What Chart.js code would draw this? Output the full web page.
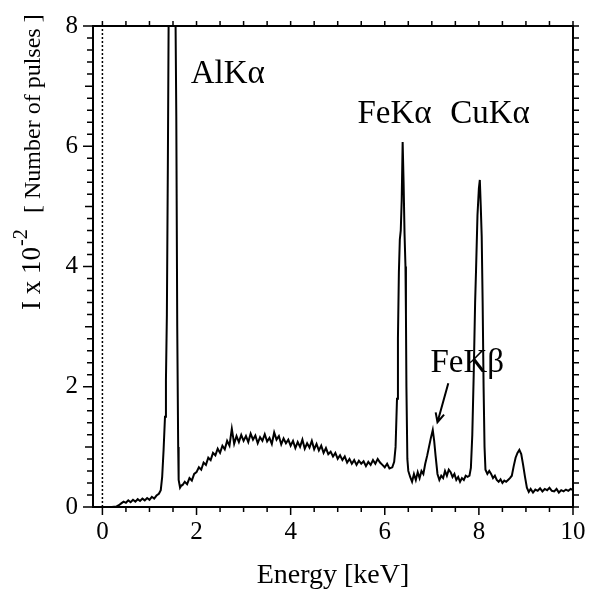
<!DOCTYPE html>
<html>
<head>
<meta charset="utf-8">
<script src="https://cdn.jsdelivr.net/npm/chart.js@4.4.1/dist/chart.umd.min.js"></script>
<style>
  html, body { margin: 0; padding: 0; background: #fff; }
  #wrap { width: 589px; height: 593px; position: relative; }
</style>
</head>
<body>
<div id="wrap"><canvas id="spectrum"></canvas></div>
<script>
// energy [keV] and intensity (x 10^2 pulses)
const energy = [
  0.00, 0.10, 0.20, 0.30, 0.35, 0.40, 0.45, 0.50, 0.55, 0.60, 0.65, 0.70, 0.75, 0.80, 0.85, 0.90, 0.95, 1.00, 1.05, 1.10, 1.15,
  1.20, 1.24, 1.27, 1.30, 1.33, 1.35, 1.37, 1.39, 1.41, 1.44, 1.48, 1.52, 1.55, 1.57, 1.59, 1.61, 1.62, 1.65, 1.68,
  1.70, 1.75, 1.80, 1.85, 1.90, 1.95, 2.00, 2.05, 2.10, 2.15, 2.20, 2.25, 2.30, 2.35, 2.40, 2.45, 2.50, 2.55, 2.60, 2.65,
  2.70, 2.75, 2.80, 2.85, 2.90, 2.95, 3.00, 3.05, 3.10, 3.15, 3.20, 3.25, 3.30, 3.35, 3.40, 3.45, 3.50, 3.55, 3.60, 3.65,
  3.70, 3.75, 3.80, 3.85, 3.90, 3.95, 4.00, 4.05, 4.10, 4.15, 4.20, 4.25, 4.30, 4.35, 4.40, 4.45, 4.50, 4.55, 4.60, 4.65,
  4.70, 4.75, 4.80, 4.85, 4.90, 4.95, 5.00, 5.05, 5.10, 5.15, 5.20, 5.25, 5.30, 5.35, 5.40, 5.45, 5.50, 5.55, 5.60, 5.65,
  5.70, 5.75, 5.80, 5.85, 5.90, 5.95, 6.00, 6.05, 6.10,
  6.16, 6.20, 6.23, 6.26, 6.28, 6.30, 6.32, 6.34, 6.36, 6.38, 6.40, 6.42, 6.44, 6.45, 6.46, 6.48, 6.50, 6.54, 6.58,
  6.62, 6.66, 6.70, 6.74, 6.78, 6.82, 6.86, 6.90, 6.94, 6.98, 7.02, 7.05, 7.08, 7.12, 7.16, 7.20, 7.24, 7.28, 7.32, 7.36,
  7.40, 7.44, 7.48, 7.52, 7.56, 7.60, 7.64, 7.68, 7.72, 7.76,
  7.80, 7.83, 7.86, 7.89, 7.92, 7.94, 7.97, 8.00, 8.02, 8.04, 8.06, 8.08, 8.10, 8.12, 8.14, 8.18, 8.22, 8.26, 8.30, 8.34,
  8.38, 8.42, 8.46, 8.50, 8.54, 8.58, 8.62, 8.66, 8.70, 8.74, 8.78, 8.82, 8.86, 8.90, 8.94, 8.98, 9.02, 9.06, 9.10, 9.15,
  9.20, 9.25, 9.30, 9.35, 9.40, 9.45, 9.50, 9.55, 9.60, 9.65, 9.70, 9.75, 9.80, 9.85, 9.90, 9.95, 10.0
];
const pulses = [
  0.00, 0.00, 0.00, 0.01, 0.03, 0.06, 0.09, 0.07, 0.11, 0.08, 0.12, 0.09, 0.13, 0.10, 0.14, 0.11, 0.15, 0.12, 0.17, 0.14, 0.19,
  0.22, 0.28, 0.50, 0.95, 1.50, 2.10, 3.20, 5.60, 8.50, 10.5, 11.0, 10.5, 8.50, 6.50, 3.00, 1.00, 0.45, 0.32, 0.36,
  0.36, 0.42, 0.38, 0.48, 0.44, 0.55, 0.58, 0.66, 0.62, 0.74, 0.70, 0.82, 0.78, 0.90, 0.86, 0.97, 0.90, 1.02, 0.96, 1.10,
  1.02, 1.30, 1.05, 1.18, 1.08, 1.20, 1.10, 1.18, 1.08, 1.22, 1.12, 1.19, 1.06, 1.16, 1.10, 1.21, 1.09, 1.15, 1.05, 1.24,
  1.12, 1.18, 1.04, 1.14, 1.06, 1.12, 1.02, 1.10, 0.98, 1.08, 1.00, 1.12, 0.97, 1.06, 0.99, 1.10, 0.96, 1.05, 0.94, 1.02,
  0.90, 0.98, 0.88, 0.92, 0.84, 0.90, 0.80, 0.86, 0.78, 0.84, 0.74, 0.80, 0.72, 0.78, 0.70, 0.77, 0.72, 0.76, 0.68, 0.75,
  0.70, 0.78, 0.72, 0.80, 0.74, 0.70, 0.66, 0.72, 0.64,
  0.66, 0.75, 1.00, 1.80, 2.80, 3.90, 4.45, 4.60, 5.10, 6.07, 5.40, 4.55, 4.00, 3.20, 2.00, 0.80, 0.60, 0.50, 0.42,
  0.55, 0.45, 0.58, 0.48, 0.60, 0.55, 0.72, 0.85, 1.00, 1.15, 1.28, 1.10, 0.85, 0.55, 0.45, 0.52, 0.48, 0.60, 0.52, 0.62,
  0.58, 0.50, 0.55, 0.45, 0.50, 0.42, 0.48, 0.45, 0.52, 0.50,
  0.52, 0.65, 1.20, 2.20, 3.40, 3.95, 4.85, 5.30, 5.44, 5.00, 4.50, 3.40, 2.00, 1.00, 0.62, 0.55, 0.60, 0.55, 0.48, 0.52,
  0.45, 0.42, 0.46, 0.40, 0.44, 0.42, 0.45, 0.48, 0.52, 0.68, 0.82, 0.90, 0.95, 0.88, 0.70, 0.50, 0.32, 0.25, 0.30, 0.24,
  0.29, 0.27, 0.31, 0.26, 0.30, 0.28, 0.32, 0.27, 0.26, 0.30, 0.24, 0.28, 0.26, 0.29, 0.27, 0.30, 0.28
];
const xTickLabels = [0, 2, 4, 6, 8, 10];
const yTickLabels = [0, 2, 4, 6, 8];

// peak names, placed in data units
const peakNames = ['AlKα', 'FeKα', 'CuKα', 'FeKβ'];
const peakNameX = [1.875, 5.42, 7.39, 6.97];
const peakNameY = [7.05, 6.39, 6.39, 2.25];

const serif = '"Liberation Serif", "Times New Roman", serif';

const framePlugin = {
  id: 'frame',
  afterDatasetsDraw(chart) {
    const { ctx, chartArea: { left, right, top, bottom }, scales: { x, y } } = chart;
    ctx.save();
    ctx.strokeStyle = '#000';
    ctx.lineWidth = 2;
    ctx.strokeRect(left, top, right - left, bottom - top);
    ctx.lineWidth = 1.5;
    ctx.beginPath();
    // x ticks, outward on bottom and top
    for (let i = 0; i <= 20; i++) {
      const v = i * 0.5;
      const px = x.getPixelForValue(v);
      const len = (i % 4 === 0) ? 8 : 5;
      ctx.moveTo(px, bottom); ctx.lineTo(px, bottom + len);
      ctx.moveTo(px, top); ctx.lineTo(px, top - 5);
    }
    // y ticks, outward on left and right
    for (let i = 0; i <= 40; i++) {
      const v = i * 0.2;
      const py = y.getPixelForValue(v);
      const len = (i % 10 === 0) ? 10 : (i % 5 === 0 ? 8 : 6);
      ctx.moveTo(left, py); ctx.lineTo(left - len, py);
      ctx.moveTo(right, py); ctx.lineTo(right + 6, py);
    }
    ctx.stroke();

    // peak labels
    ctx.fillStyle = '#000';
    ctx.font = '33px ' + serif;
    ctx.textAlign = 'left';
    ctx.textBaseline = 'alphabetic';
    peakNames.forEach((t, i) => {
      ctx.fillText(t, x.getPixelForValue(peakNameX[i]), y.getPixelForValue(peakNameY[i]));
    });

    // arrow to FeKβ
    const ax0 = x.getPixelForValue(7.35), ay0 = y.getPixelForValue(2.06);
    const ax1 = x.getPixelForValue(7.12), ay1 = y.getPixelForValue(1.41);
    const ang = Math.atan2(ay1 - ay0, ax1 - ax0);
    ctx.lineWidth = 2;
    ctx.beginPath();
    ctx.moveTo(ax0, ay0); ctx.lineTo(ax1, ay1);
    ctx.moveTo(ax1 - 10 * Math.cos(ang - 0.45), ay1 - 10 * Math.sin(ang - 0.45));
    ctx.lineTo(ax1, ay1);
    ctx.lineTo(ax1 - 10 * Math.cos(ang + 0.45), ay1 - 10 * Math.sin(ang + 0.45));
    ctx.stroke();

    // y axis title with superscript
    ctx.translate(40, 310);
    ctx.rotate(-Math.PI / 2);
    ctx.font = '27px ' + serif;
    ctx.fillText('I x 10', 0, 0);
    const w = ctx.measureText('I x 10').width;
    ctx.font = '20px ' + serif;
    ctx.fillText('-2', w + 1, -13);
    ctx.font = '24px ' + serif;
    ctx.fillText('[ Number of pulses ]', 97, 0);
    ctx.restore();
  }
};

const ctx = document.getElementById('spectrum').getContext('2d');
new Chart(ctx, {
  type: 'line',
  data: {
    datasets: [
      {
        data: energy.map((e, i) => ({ x: e, y: pulses[i] })),
        borderColor: '#000',
        borderWidth: 2,
        pointRadius: 0,
        tension: 0
      },
      {
        // zero-energy marker
        data: [{ x: 0, y: 0 }, { x: 0, y: 8 }],
        borderColor: '#000',
        borderWidth: 1.5,
        borderDash: [2, 2],
        pointRadius: 0
      }
    ]
  },
  options: {
    responsive: true,
    maintainAspectRatio: false,
    animation: false,
    layout: { padding: { top: 26, right: 16, left: 0, bottom: 0 } },
    plugins: { legend: { display: false }, tooltip: { enabled: false } },
    scales: {
      x: {
        type: 'linear',
        min: -0.2,
        max: 10,
        grid: { display: false, drawTicks: false },
        border: { display: false },
        afterBuildTicks: s => { s.ticks = xTickLabels.map(v => ({ value: v })); },
        afterFit: s => { s.height = 86; s.paddingLeft = 0; s.paddingRight = 0; },
        ticks: { color: '#000', padding: 10, maxRotation: 0, font: { family: serif, size: 25 } },
        title: { display: true, text: 'Energy [keV]', color: '#000', padding: { top: 0, bottom: 1 }, font: { family: serif, size: 28 } }
      },
      y: {
        min: 0,
        max: 8,
        grid: { display: false, drawTicks: false },
        border: { display: false },
        afterBuildTicks: s => { s.ticks = yTickLabels.map(v => ({ value: v })); },
        afterFit: s => { s.width = 93; s.paddingTop = 0; s.paddingBottom = 0; },
        ticks: { color: '#000', padding: 15, font: { family: serif, size: 25 } }
      }
    }
  },
  plugins: [framePlugin]
});
</script>
</body>
</html>
